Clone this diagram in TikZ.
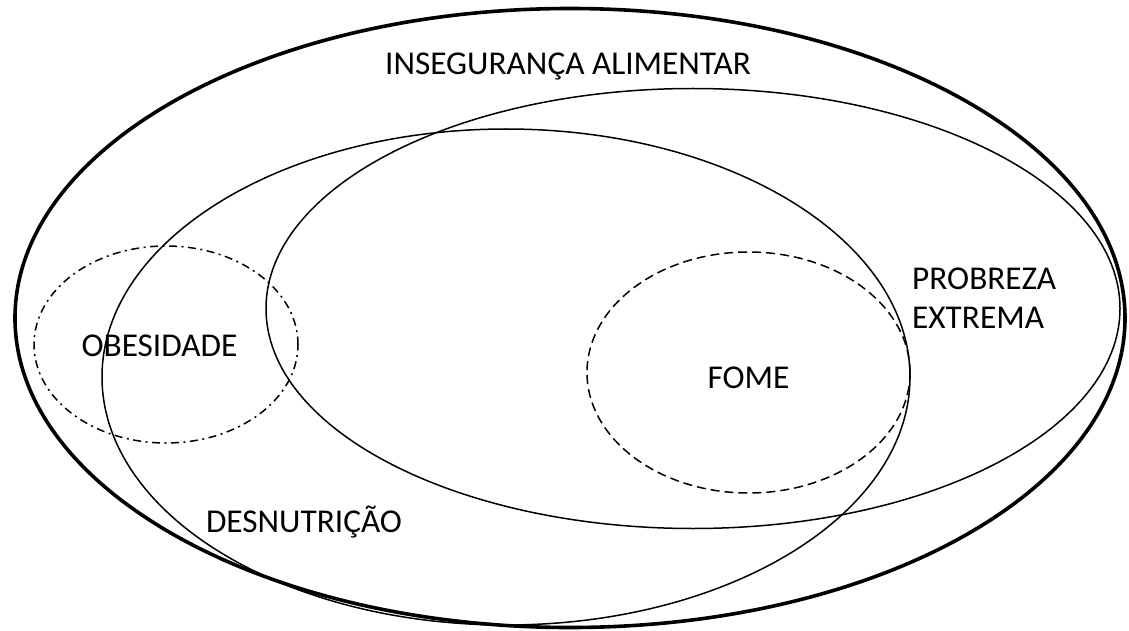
\documentclass[tikz,border=0pt]{standalone}
\usepackage{fontspec}
\setmainfont{Carlito}
\usetikzlibrary{shapes.geometric}
\begin{document}
\begin{tikzpicture}[x=1pt,y=-1pt,
  ring/.style={draw=black, ellipse, inner sep=0pt, line width=1.5pt},
  outerring/.style={ring, line width=3.6pt},
  dashring/.style={ring, dash pattern=on 9pt off 5pt},
  dotring/.style={ring, dash pattern=on 8pt off 4.5pt on 2pt off 4.5pt},
  lbl/.style={font=\fontsize{33.3}{40}\selectfont, inner sep=0pt, text=black}]
\useasboundingbox (0,0) rectangle (1129,631);
\node[outerring, minimum width=1110pt, minimum height=619pt] (inseg) at (570,318) {};
\node[ring, minimum width=854pt, minimum height=440pt] (pobreza) at (693,308.5) {};
\node[ring, minimum width=808pt, minimum height=496pt] (desnut) at (506,377) {};
\node[dotring, minimum width=264pt, minimum height=197pt] (obes) at (166,344.5) {};
\node[dashring, minimum width=323pt, minimum height=241pt] (fome) at (748.5,372.5) {};
\node[lbl, anchor=base] (tinseg) at (568,75) {INSEGURANÇA ALIMENTAR};
\node[lbl, anchor=base west] (tpob1) at (912,289) {PROBREZA};
\node[lbl, anchor=base west] (tpob2) at (912,328) {EXTREMA};
\node[lbl, anchor=base] (tobes) at (159.5,356) {OBESIDADE};
\node[lbl, anchor=base] (tfome) at (748.5,388) {FOME};
\node[lbl, anchor=base] (tdes) at (304,532) {DESNUTRIÇÃO};
\end{tikzpicture}
\end{document}
